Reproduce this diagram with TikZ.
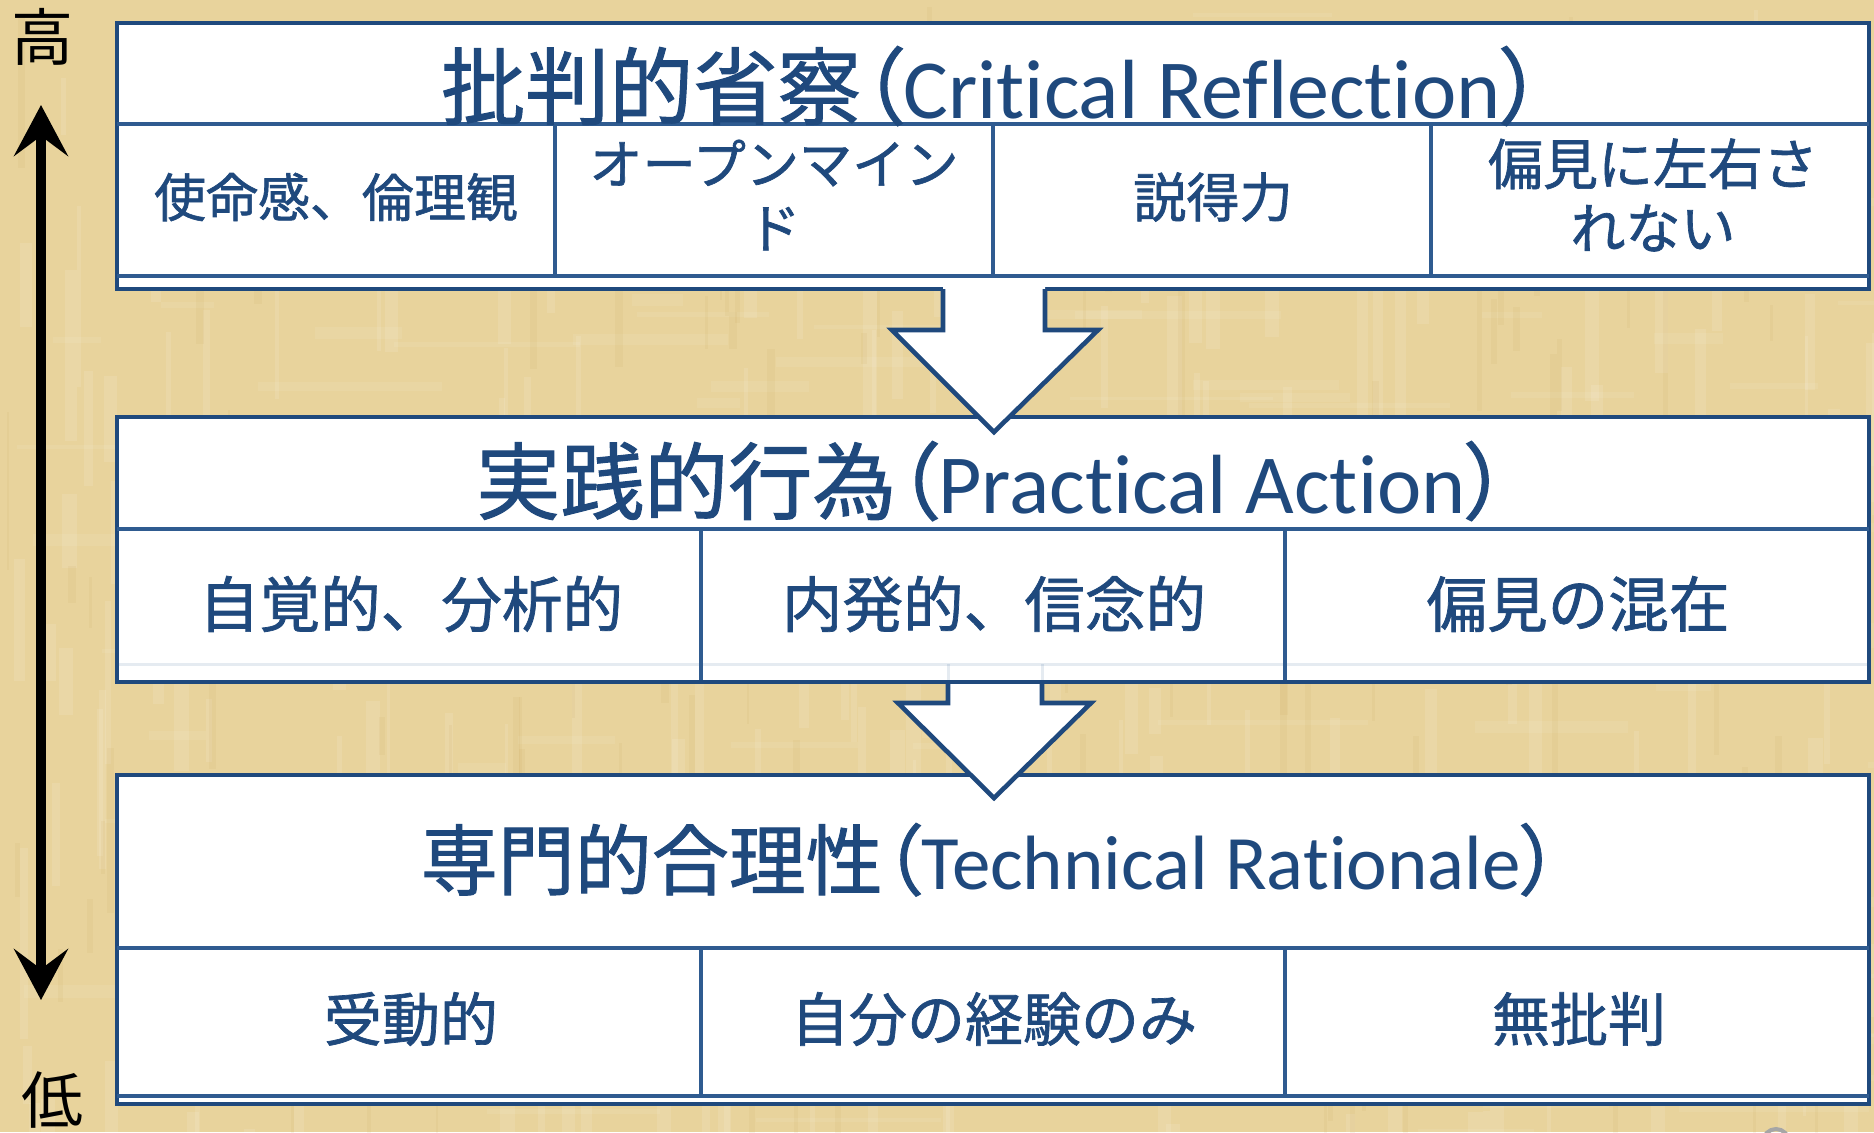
\documentclass[tikz,border=0pt]{standalone}
\usepackage{fontspec}
\setmainfont[FakeBold=1.2]{Noto Sans CJK JP}
\newfontfamily\lat[Ligatures=NoCommon]{Carlito}
\newfontfamily\cjkp[RawFeature=+palt, FakeBold=1.2]{Noto Sans CJK JP}
\newfontfamily\axisfont{Noto Sans CJK JP}
\newcommand\brk{\kern0pt }
\usetikzlibrary{arrows.meta}
\definecolor{navy}{HTML}{1F497D}
\definecolor{innerblue}{HTML}{2F5B90}
\definecolor{papyrus}{HTML}{E8D39C}
\definecolor{papyrusdark}{HTML}{C9A55A}
\tikzset{
  boxline/.style={draw=navy, line width=2.3pt, fill=white},
  innerline/.style={draw=innerblue, line width=2pt},
  faintline/.style={draw=innerblue, line width=1.5pt, opacity=0.12},
  ttl/.style={text=navy, font=\fontsize{42}{50}\selectfont, anchor=base, inner sep=0pt},
  ttlsmall/.style={text=navy, font=\fontsize{38.5}{46}\selectfont, anchor=base, inner sep=0pt},
  cella/.style={text=navy, font=\fontsize{26.6}{32}\selectfont, align=center, inner sep=0pt},
  cellb/.style={text=navy, font=\fontsize{29}{34}\selectfont, inner sep=0pt},
  flowline/.style={draw=navy, line width=2.3pt, line join=miter},
  axislabel/.style={text=black, font=\axisfont\fontsize{31}{36}\selectfont, inner sep=0pt},
}
\begin{document}
\begin{tikzpicture}[x=0.5pt, y=-0.5pt]
\useasboundingbox (0,0) rectangle (1874,1132);
\begin{scope}
\clip (0,0) rectangle (1874,1132);
% background papyrus
\fill[papyrus] (0,0) rectangle (1874,1132);
\pgfmathsetseed{12}
\foreach \i in {1,...,220}{
  \pgfmathsetmacro\xx{rnd*1874}
  \pgfmathsetmacro\yy{rnd*1132}
  \pgfmathsetmacro\ww{3+rnd*12}
  \pgfmathsetmacro\hh{40+rnd*170}
  \fill[white, opacity=0.10] (\xx,\yy) rectangle ++(\ww,\hh);
}
\foreach \i in {1,...,160}{
  \pgfmathsetmacro\xx{rnd*1874}
  \pgfmathsetmacro\yy{rnd*1132}
  \pgfmathsetmacro\ww{40+rnd*170}
  \pgfmathsetmacro\hh{3+rnd*10}
  \fill[white, opacity=0.08] (\xx,\yy) rectangle ++(\ww,\hh);
}
\foreach \i in {1,...,140}{
  \pgfmathsetmacro\xx{rnd*1874}
  \pgfmathsetmacro\yy{rnd*1132}
  \pgfmathsetmacro\ww{2+rnd*6}
  \pgfmathsetmacro\hh{30+rnd*140}
  \fill[papyrusdark, opacity=0.10] (\xx,\yy) rectangle ++(\ww,\hh);
}
\draw[gray!70, line width=2pt] (1776,1142) circle (13);
\end{scope}

% ---------- bottom box ----------
\draw[boxline] (117,775) rectangle (1869,1104);
\draw[innerline] (117,948) -- (1869,948);
\draw[innerline] (117,1096) -- (1869,1096);
\draw[innerline] (701,948) -- (701,1096);
\draw[innerline] (1285,948) -- (1285,1096);

% ---------- arrow 2 ----------
\fill[white] (948,664) -- (948,703) -- (898,703) -- (994,798) -- (1091,703) -- (1042,703) -- (1042,664) -- cycle;

% ---------- middle box ----------
\draw[boxline] (117,417) rectangle (1869,682);
\draw[innerline] (117,529) -- (1869,529);
\draw[faintline] (117,664) -- (1869,664);
\draw[innerline] (701,529) -- (701,682);
\draw[innerline] (1285,529) -- (1285,682);
\fill[white] (946,666) rectangle (1044,681);
\draw[faintline] (948,664) -- (948,682);
\draw[faintline] (1042,664) -- (1042,682);
\draw[navy, line width=2.3pt] (117,682) -- (1869,682);
\draw[flowline] (948,682) -- (948,703) -- (898,703) -- (994,798) -- (1091,703) -- (1042,703) -- (1042,682);

% ---------- top box ----------
\draw[boxline] (117,23) rectangle (1869,289);
\draw[innerline] (117,124) -- (1869,124);
\draw[innerline] (117,276) -- (1869,276);
\draw[innerline] (555,124) -- (555,276);
\draw[innerline] (993,124) -- (993,276);
\draw[innerline] (1431,124) -- (1431,276);

% ---------- arrow 1 ----------
\fill[white] (943,286) -- (943,330) -- (892,330) -- (994,432) -- (1098,330) -- (1045,330) -- (1045,286) -- cycle;
\draw[flowline] (943,289) -- (943,330) -- (892,330) -- (994,432) -- (1098,330) -- (1045,330) -- (1045,289);

% ---------- titles ----------
\node[ttl] (t1) at (992,118) {批判的省察{\cjkp （}{\lat Crit\brk ical Reflect\brk ion}{\cjkp ）}};
\node[ttl] (t2) at (992,513) {実践的行為{\cjkp （}{\lat Pract\brk ical Act\brk ion}{\cjkp ）}};
\node[ttlsmall] (t3) at (990,889) {専門的合理性{\cjkp （}{\lat Technical Rat\brk ionale}{\cjkp ）}};

% ---------- cells ----------
\node[cella, font=\fontsize{26}{32}\selectfont] (c11) at (336,197) {使命感、倫理観};
\node[cella] (c12) at (774,195) {オープンマイン\\ド};
\node[cella] (c13) at (1213,197) {説得力};
\node[cella, font=\fontsize{27.5}{32}\selectfont] (c14) at (1653,195) {偏見に左右さ\\れない};

\node[cellb, font=\fontsize{30.3}{34}\selectfont] (c21) at (411,604) {自覚的、分析的};
\node[cellb, font=\fontsize{30.3}{34}\selectfont] (c22) at (994,604) {内発的、信念的};
\node[cellb, font=\fontsize{30.3}{34}\selectfont] (c23) at (1578,604) {偏見の混在};

\node[cellb] (c31) at (411,1019) {受動的};
\node[cellb] (c32) at (994,1019) {自分の経験のみ};
\node[cellb] (c33) at (1579,1019) {無批判};

% ---------- axis ----------
\node[axislabel] (hi) at (42,37) {高};
\node[axislabel] (lo) at (52,1100) {低};
\coordinate (hitip) at (41,105);
\coordinate (lotip) at (41,1000);
\draw[line width=5pt, {Stealth[length=25.5pt, width=27pt, inset=10pt]}-{Stealth[length=25.5pt, width=27pt, inset=10pt]}] (hitip) -- (lotip);
\end{tikzpicture}
\end{document}
